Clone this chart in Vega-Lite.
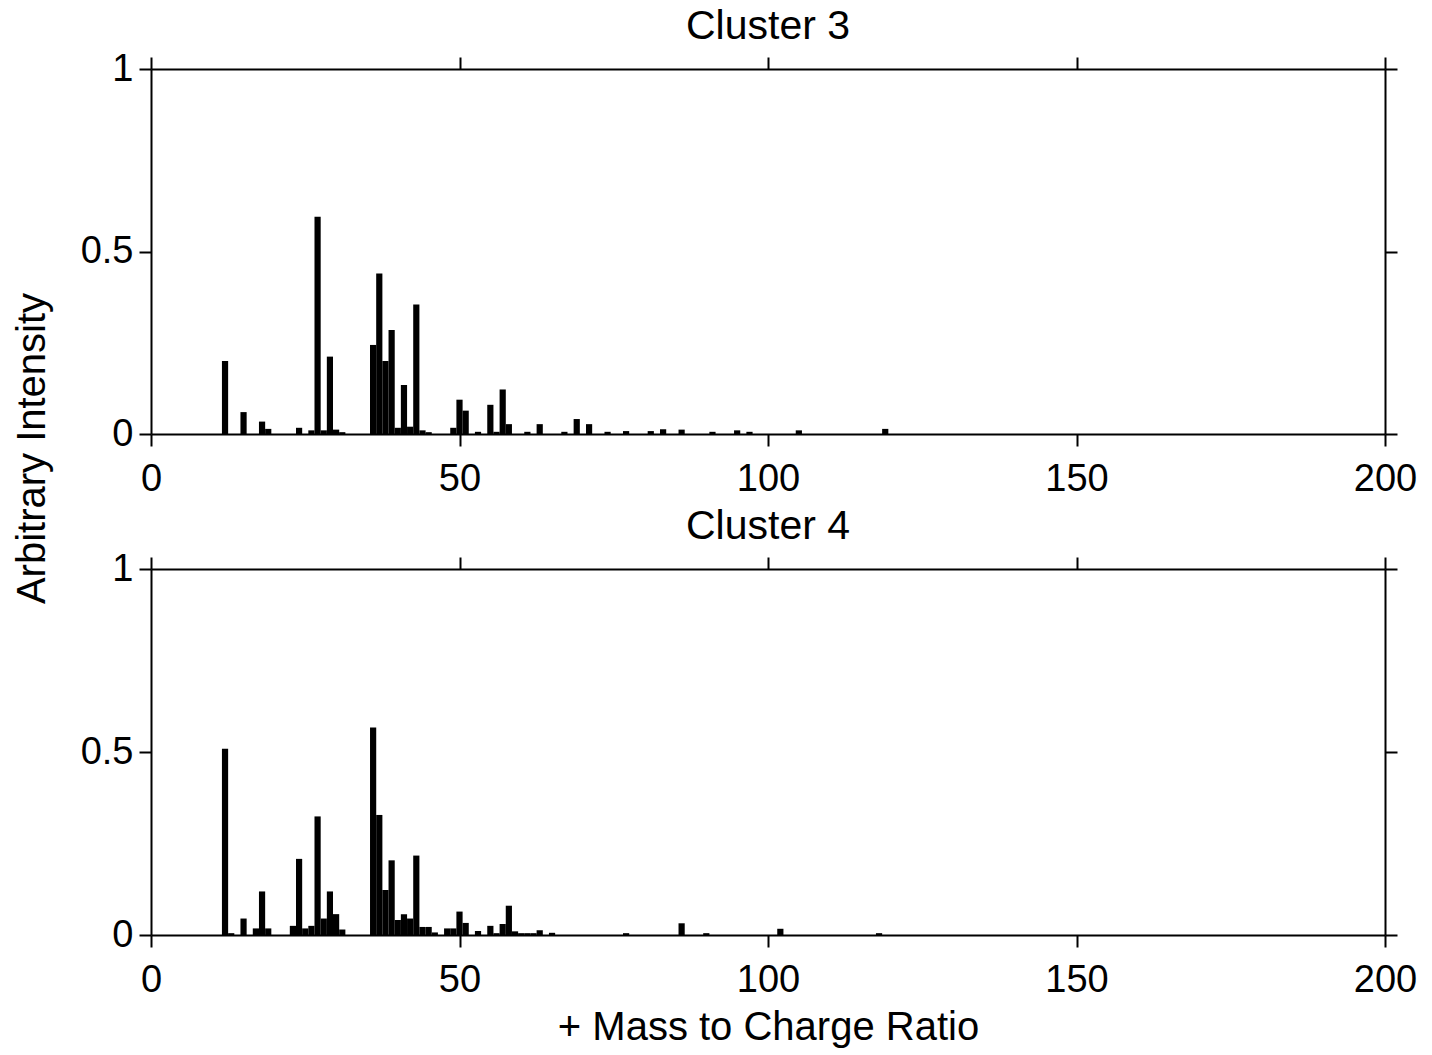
{
  "$schema": "https://vega.github.io/schema/vega-lite/v6.json",
  "background": "white",
  "padding": {"left": 12, "top": 6, "right": 10, "bottom": 5},
  "spacing": 135,
  "bounds": "flush",
  "config": {
    "font": "Liberation Sans",
    "view": {"stroke": null},
    "axis": {
      "grid": false,
      "domainColor": "black",
      "domainWidth": 2,
      "tickColor": "black",
      "tickWidth": 2,
      "tickSize": 12,
      "labelFont": "Liberation Sans",
      "labelFontSize": 38,
      "labelColor": "black",
      "titleFont": "Liberation Sans",
      "titleFontSize": 40,
      "titleFontWeight": "normal",
      "titleColor": "black"
    },
    "title": {"font": "Liberation Sans", "fontSize": 41, "fontWeight": "normal", "color": "black"}
  },
  "vconcat": [
    {
      "title": {"text": "Cluster 3", "offset": 2},
      "width": 1234,
      "height": 365,
      "data": {"values": [
        {"mz": 12, "intensity": 0.20}, {"mz": 15, "intensity": 0.06}, {"mz": 18, "intensity": 0.034}, {"mz": 19, "intensity": 0.014},
        {"mz": 24, "intensity": 0.017}, {"mz": 26, "intensity": 0.01}, {"mz": 27, "intensity": 0.595}, {"mz": 28, "intensity": 0.01},
        {"mz": 29, "intensity": 0.212}, {"mz": 30, "intensity": 0.012}, {"mz": 31, "intensity": 0.005}, {"mz": 36, "intensity": 0.244},
        {"mz": 37, "intensity": 0.44}, {"mz": 38, "intensity": 0.20}, {"mz": 39, "intensity": 0.285}, {"mz": 40, "intensity": 0.017},
        {"mz": 41, "intensity": 0.134}, {"mz": 42, "intensity": 0.02}, {"mz": 43, "intensity": 0.355}, {"mz": 44, "intensity": 0.01},
        {"mz": 45, "intensity": 0.005}, {"mz": 49, "intensity": 0.017}, {"mz": 50, "intensity": 0.094}, {"mz": 51, "intensity": 0.064},
        {"mz": 53, "intensity": 0.006}, {"mz": 55, "intensity": 0.08}, {"mz": 56, "intensity": 0.006}, {"mz": 57, "intensity": 0.122},
        {"mz": 58, "intensity": 0.027}, {"mz": 61, "intensity": 0.006}, {"mz": 63, "intensity": 0.027}, {"mz": 67, "intensity": 0.006},
        {"mz": 69, "intensity": 0.041}, {"mz": 71, "intensity": 0.027}, {"mz": 74, "intensity": 0.006}, {"mz": 77, "intensity": 0.008},
        {"mz": 81, "intensity": 0.008}, {"mz": 83, "intensity": 0.013}, {"mz": 86, "intensity": 0.012}, {"mz": 91, "intensity": 0.006},
        {"mz": 95, "intensity": 0.01}, {"mz": 97, "intensity": 0.006}, {"mz": 105, "intensity": 0.01}, {"mz": 119, "intensity": 0.014}
      ]},
      "resolve": {"axis": {"x": "independent", "y": "independent"}},
      "layer": [
        {
          "mark": {"type": "bar", "color": "black", "width": 6.2},
          "encoding": {
            "x": {"field": "mz", "type": "quantitative", "scale": {"domain": [0, 200], "nice": false, "padding": 0},
                  "axis": {"values": [0, 50, 100, 150, 200], "title": null, "labelPadding": 14, "labelFlush": false}},
            "y": {"field": "intensity", "type": "quantitative", "scale": {"domain": [0, 1], "nice": false, "padding": 0},
                  "axis": {"values": [0, 0.5, 1], "format": "~g", "title": "Arbitrary Intensity", "titleY": 379, "titlePadding": 28, "labelPadding": 6}}
          }
        },
        {
          "mark": {"type": "bar", "opacity": 0, "width": 6.2},
          "encoding": {
            "x": {"field": "mz", "type": "quantitative", "axis": {"orient": "top", "values": [0, 50, 100, 150, 200], "labels": false, "title": null}},
            "y": {"field": "intensity", "type": "quantitative", "axis": {"orient": "right", "values": [0, 0.5, 1], "labels": false, "title": null}}
          }
        }
      ]
    },
    {
      "title": {"text": "Cluster 4", "offset": 2},
      "width": 1234,
      "height": 366,
      "data": {"values": [
        {"mz": 12, "intensity": 0.509}, {"mz": 13, "intensity": 0.005}, {"mz": 15, "intensity": 0.045}, {"mz": 17, "intensity": 0.018},
        {"mz": 18, "intensity": 0.119}, {"mz": 19, "intensity": 0.018}, {"mz": 23, "intensity": 0.025}, {"mz": 24, "intensity": 0.208},
        {"mz": 25, "intensity": 0.018}, {"mz": 26, "intensity": 0.025}, {"mz": 27, "intensity": 0.324}, {"mz": 28, "intensity": 0.045},
        {"mz": 29, "intensity": 0.119}, {"mz": 30, "intensity": 0.057}, {"mz": 31, "intensity": 0.015}, {"mz": 36, "intensity": 0.567},
        {"mz": 37, "intensity": 0.328}, {"mz": 38, "intensity": 0.123}, {"mz": 39, "intensity": 0.204}, {"mz": 40, "intensity": 0.041},
        {"mz": 41, "intensity": 0.057}, {"mz": 42, "intensity": 0.045}, {"mz": 43, "intensity": 0.217}, {"mz": 44, "intensity": 0.022},
        {"mz": 45, "intensity": 0.022}, {"mz": 46, "intensity": 0.007}, {"mz": 48, "intensity": 0.018}, {"mz": 49, "intensity": 0.018},
        {"mz": 50, "intensity": 0.064}, {"mz": 51, "intensity": 0.033}, {"mz": 53, "intensity": 0.011}, {"mz": 55, "intensity": 0.025},
        {"mz": 56, "intensity": 0.005}, {"mz": 57, "intensity": 0.03}, {"mz": 58, "intensity": 0.08}, {"mz": 59, "intensity": 0.01},
        {"mz": 60, "intensity": 0.005}, {"mz": 61, "intensity": 0.005}, {"mz": 62, "intensity": 0.005}, {"mz": 63, "intensity": 0.013},
        {"mz": 65, "intensity": 0.006}, {"mz": 77, "intensity": 0.005}, {"mz": 86, "intensity": 0.032}, {"mz": 90, "intensity": 0.005},
        {"mz": 102, "intensity": 0.017}, {"mz": 118, "intensity": 0.005}
      ]},
      "resolve": {"axis": {"x": "independent", "y": "independent"}},
      "layer": [
        {
          "mark": {"type": "bar", "color": "black", "width": 6.2},
          "encoding": {
            "x": {"field": "mz", "type": "quantitative", "scale": {"domain": [0, 200], "nice": false, "padding": 0},
                  "axis": {"values": [0, 50, 100, 150, 200], "title": "+ Mass to Charge Ratio", "labelPadding": 14, "titlePadding": 8, "labelFlush": false}},
            "y": {"field": "intensity", "type": "quantitative", "scale": {"domain": [0, 1], "nice": false, "padding": 0},
                  "axis": {"values": [0, 0.5, 1], "format": "~g", "title": null, "labelPadding": 6}}
          }
        },
        {
          "mark": {"type": "bar", "opacity": 0, "width": 6.2},
          "encoding": {
            "x": {"field": "mz", "type": "quantitative", "axis": {"orient": "top", "values": [0, 50, 100, 150, 200], "labels": false, "title": null}},
            "y": {"field": "intensity", "type": "quantitative", "axis": {"orient": "right", "values": [0, 0.5, 1], "labels": false, "title": null}}
          }
        }
      ]
    }
  ]
}
